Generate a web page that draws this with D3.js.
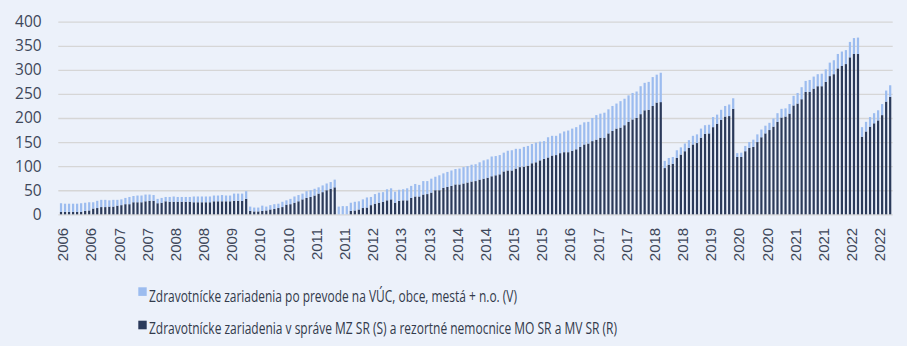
<!DOCTYPE html>
<html>
<head>
<meta charset="utf-8">
<script src="https://cdn.jsdelivr.net/npm/d3@7"></script>
<style>
  html, body { margin: 0; padding: 0; background: #ECF1FA; }
  svg { display: block; }
</style>
</head>
<body>
<svg id="chart" width="907" height="346"></svg>
<script>
// ---------- DATA ----------
// monthly categories, Jan 2006 .. Mar 2023
const startYear = 2006;
const monthCount = 207;
const categories = [];
for (let i = 0; i < monthCount; i++) {
  const y = startYear + Math.floor(i / 12);
  const m = (i % 12) + 1;
  categories.push(y + "-" + String(m).padStart(2, "0"));
}

// Zdravotnícke zariadenia v správe MZ SR (S) a rezortné nemocnice MO SR a MV SR (R)
const seriesSR = [
  5,5,5,5,5,5,7,8,12,13,
  15,15,16,16,18,19,21,21,25,25,
  25,27,28,28,23,24,27,26,26,26,
  26,26,26,25,25,25,25,25,27,27,
  27,27,27,28,28,28,32,7,6,6,
  7,8,10,11,13,15,20,21,24,27,
  31,34,36,39,43,46,50,53,56,0,
  0,0,7,8,10,13,14,19,22,24,
  26,29,31,24,28,29,29,34,37,37,
  41,42,45,50,50,55,57,59,62,62,
  64,66,68,69,72,74,76,79,81,83,
  89,91,91,95,98,99,101,106,108,112,
  115,118,122,123,127,129,129,132,135,140,
  145,147,152,155,159,159,168,173,178,180,
  185,192,197,200,208,216,217,225,232,233,
  96,103,105,117,124,131,138,145,148,159,
  167,168,181,188,196,203,204,219,119,119,
  131,138,140,150,160,168,175,182,192,201,
  203,209,226,230,239,254,254,261,266,266,
  275,287,291,303,308,312,326,333,333,161,
  172,182,189,195,206,234,244
];

// Zdravotnícke zariadenia po prevode na VÚC, obce, mestá + n.o. (V)
const seriesV = [
  18,17,17,17,17,18,17,17,13,15,
  15,15,13,14,12,12,13,15,13,14,
  14,14,13,12,9,10,9,10,11,10,
  10,10,10,12,12,12,12,12,12,12,
  13,12,12,15,15,15,16,9,8,8,
  11,8,9,10,9,11,9,11,13,13,
  12,14,14,14,13,14,14,14,16,16,
  17,17,17,18,17,18,21,17,20,21,
  20,23,23,23,23,23,25,25,26,24,
  28,27,29,28,31,30,31,32,32,33,
  34,34,35,35,36,38,38,41,40,40,
  39,41,42,41,38,41,41,40,41,39,
  37,42,41,40,41,43,45,46,46,46,
  46,45,48,51,50,52,50,52,52,55,
  55,55,55,55,58,57,58,60,58,61,
  15,14,14,16,15,16,16,18,18,19,
  18,18,21,19,21,22,24,22,8,9,
  11,12,15,16,16,16,15,17,18,18,
  17,20,20,22,25,23,25,25,25,26,
  26,28,29,30,30,29,32,33,34,20,
  20,20,21,21,23,23,24
];

const yTicks = [0, 50, 100, 150, 200, 250, 300, 350, 400];
const xLabelEvery = 7;

const legendLabels = [
  "Zdravotnícke zariadenia po prevode na VÚC, obce, mestá + n.o. (V)",
  "Zdravotnícke zariadenia v správe MZ SR (S) a rezortné nemocnice MO SR a MV SR (R)"
];

// ---------- CHART ----------
const colorV = "#9CBCEF";
const colorSR = "#2B3A5A";
const textColor = "#3E4759";

const svg = d3.select("#chart");
svg.append("rect").attr("width", 907).attr("height", 346).attr("fill", "#ECF1FA");

const plotLeft = 58.3, plotRight = 892.7;
const x = d3.scaleBand()
  .domain(categories)
  .range([59, 892.2])
  .paddingInner(0.45)
  .paddingOuter(0.225);

const y = d3.scaleLinear().domain([0, 400]).range([214.3, 21.7]);

// grid + y labels
const yAxis = d3.axisLeft(y)
  .tickValues(yTicks)
  .tickSize(-(plotRight - plotLeft))
  .tickPadding(16.6)
  .tickFormat(d3.format("d"));

const gy = svg.append("g")
  .attr("transform", `translate(${plotLeft},0)`)
  .call(yAxis);
gy.select(".domain").remove();
gy.selectAll(".tick line").attr("stroke", "#D6D6D6").attr("stroke-width", 1.3);
gy.selectAll(".tick text")
  .attr("fill", textColor)
  .style("font-family", "'Open Sans', sans-serif")
  .style("font-size", "15.5px");

// stacked bars
const table = categories.map((c, i) => ({ cat: c, SR: seriesSR[i], V: seriesV[i] }));
const stack = d3.stack().keys(["SR", "V"]);
const layers = stack(table);
const colors = { SR: colorSR, V: colorV };

svg.append("g").selectAll("g")
  .data(layers)
  .join("g")
  .attr("fill", d => colors[d.key])
  .selectAll("rect")
  .data(d => d)
  .join("rect")
  .attr("x", d => x(d.data.cat))
  .attr("width", x.bandwidth())
  .attr("y", d => y(d[1]))
  .attr("height", d => Math.max(0, y(d[0]) - y(d[1])));

// x axis labels
const xTickVals = categories.filter((c, i) => i % xLabelEvery === 0);
const xAxis = d3.axisBottom(x)
  .tickValues(xTickVals)
  .tickSize(0)
  .tickFormat(d => d.slice(0, 4));

const gx = svg.append("g")
  .attr("transform", `translate(0,${y(0)})`)
  .call(xAxis);
gx.select(".domain").remove();
gx.selectAll(".tick text")
  .attr("transform", "rotate(-90)")
  .attr("text-anchor", "end")
  .attr("x", -13.5)
  .attr("y", 2)
  .attr("dy", "0.35em")
  .attr("fill", textColor)
  .style("font-family", "'Liberation Sans', Arial, sans-serif")
  .style("font-size", "15px");

// legend
const legendItems = [
  { label: legendLabels[0], color: colorV, sy: 287.3, ty: 302, w: 368 },
  { label: legendLabels[1], color: colorSR, sy: 320.7, ty: 334, w: 468 }
];
const lg = svg.append("g");
legendItems.forEach(it => {
  lg.append("rect").attr("x", 138.3).attr("y", it.sy).attr("width", 8.4).attr("height", 8.6).attr("fill", it.color);
  lg.append("text")
    .attr("x", 149)
    .attr("y", it.ty)
    .attr("fill", "#333B4C")
    .attr("textLength", it.w)
    .attr("lengthAdjust", "spacingAndGlyphs")
    .style("font-family", "'Open Sans', sans-serif")
    .style("font-size", "17px")
    .text(it.label);
});
</script>
</body>
</html>
